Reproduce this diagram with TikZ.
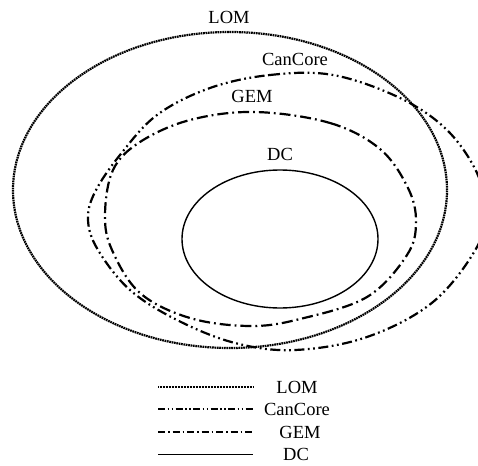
\documentclass[tikz,border=0pt]{standalone}
\usepackage{fontspec}
\setmainfont{Liberation Serif}
\usetikzlibrary{shapes.geometric}
\begin{document}
\begin{tikzpicture}[x=1pt,y=-1pt,
  lbl/.style={font=\fontsize{18.5}{20}\selectfont, inner sep=0pt},
  ell/.style={ellipse, draw, inner sep=0pt, outer sep=0pt},
  lomline/.style={line width=2.2pt, dash pattern=on 1.7pt off 0.7pt},
  canline/.style={line width=2.2pt, dash pattern=on 10pt off 3.5pt on 1.8pt off 3.5pt on 1.8pt off 3.5pt},
  gemline/.style={line width=2.2pt, dash pattern=on 11pt off 4pt on 1.8pt off 4pt},
  dcline/.style={line width=1.4pt}]
\useasboundingbox (0,0) rectangle (478,465);
\node[ell, lomline, minimum width=434pt, minimum height=316pt] (lom) at (230,190) {};
% CanCore
\draw[canline] plot[smooth cycle, tension=0.6] coordinates {
 (210,88) (270,75) (333,75) (400,98) (447,130) (477,173) (484,210)
 (477,247) (433,302) (367,337) (295,350) (235,343) (177,320) (130,290)
 (98,250) (88,220) (95,192) (120,155) (157,115)};
% GEM
\draw[gemline] plot[smooth cycle, tension=0.6] coordinates {
 (255,112) (330,123) (380,149) (408,188) (416,222) (407,255) (367,297)
 (300,319) (250,326) (190,318) (140,293) (112,250) (105,215) (113,170)
 (140,142) (190,120)};
\node[ell, dcline, minimum width=196pt, minimum height=138pt] (dc) at (280,239) {};
\node[lbl] (tlom) at (229,17) {LOM};
\node[lbl] (tcan) at (295,59) {CanCore};
\node[lbl] (tgem) at (252,96) {GEM};
\node[lbl] (tdc) at (280,154) {DC};
% legend
\coordinate (l1a) at (158,387); \coordinate (l1b) at (253,387);
\coordinate (l2a) at (158,409); \coordinate (l2b) at (253,409);
\coordinate (l3a) at (158,432); \coordinate (l3b) at (253,432);
\coordinate (l4a) at (158,454); \coordinate (l4b) at (253,454);
\draw[line width=1.5pt, dash pattern=on 1pt off 0.5pt] (l1a) -- (l1b);
\draw[line width=1.5pt, dash pattern=on 7pt off 2.5pt on 1.5pt off 2.5pt on 1.5pt off 2.5pt] (l2a) -- (l2b);
\draw[line width=1.5pt, dash pattern=on 7pt off 3pt on 1.5pt off 3pt] (l3a) -- (l3b);
\draw[line width=1pt] (l4a) -- (l4b);
\node[lbl] (klom) at (297,387) {LOM};
\node[lbl] (kcan) at (297,409) {CanCore};
\node[lbl] (kgem) at (300,432) {GEM};
\node[lbl] (kdc) at (296,454) {DC};
\end{tikzpicture}
\end{document}
